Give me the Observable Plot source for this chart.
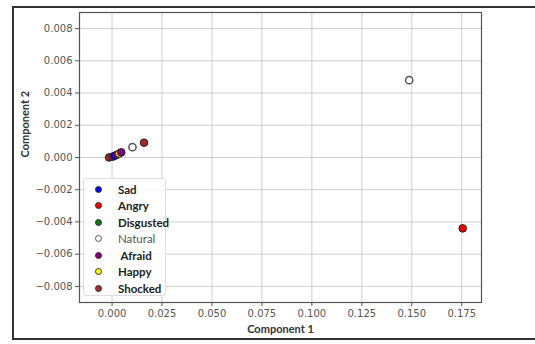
<!DOCTYPE html>
<html>
<head>
<meta charset="utf-8">
<script src="https://cdn.jsdelivr.net/npm/d3@7"></script>
<script src="https://cdn.jsdelivr.net/npm/@observablehq/plot@0.6"></script>
<style>
  html, body { margin: 0; padding: 0; background: #fff; }
  #wrap { position: relative; width: 535px; height: 344px; overflow: hidden; }
  #border { position: absolute; left: 12px; top: 6px; width: 530px; height: 334px; border: 2px solid #333; box-sizing: border-box; }
  #legend { position: absolute; left: 83px; top: 178px; width: 83px; height: 118px; border: 1px solid #ddd; border-radius: 3px; background: rgba(255,255,255,0.85); box-sizing: border-box; font-family: Lato, "Open Sans", sans-serif; font-size: 11.5px; }
  .row { position: absolute; left: 0; height: 14px; display: flex; align-items: center; }
  .sw { position: absolute; left: 11px; width: 7px; height: 7px; border-radius: 50%; box-sizing: border-box; }
  .lab { position: absolute; left: 34px; white-space: pre; font-weight: bold; color: #222; }
</style>
</head>
<body>
<div id="wrap">
  <div id="chart"></div>
  <div id="border"></div>
  <div id="legend"></div>
</div>
<script>
// Legend categories and colours
const categories = ["Sad", "Angry", "Disgusted", "Natural", "Afraid", "Happy", "Shocked"];
const colors = ["#0000ee", "#ee0000", "#117711", "#ffffff", "#800080", "#ffff00", "#a52a2a"];

// Scatter points
const ptEmotion = ["Shocked", "Shocked", "Sad", "Afraid", "Happy", "Afraid", "Natural", "Shocked", "Natural", "Angry"];
const ptC1 = [-0.0015, 0.0002, 0.0012, 0.0024, 0.0036, 0.0046, 0.0102, 0.0160, 0.1487, 0.1755];
const ptC2 = [0.0000, 0.00005, 0.0001, 0.00017, 0.00025, 0.00032, 0.00064, 0.00092, 0.0048, -0.0044];

// Tick values
const xTicks = [0.000, 0.025, 0.050, 0.075, 0.100, 0.125, 0.150, 0.175];
const yTicks = [-0.008, -0.006, -0.004, -0.002, 0.000, 0.002, 0.004, 0.006, 0.008];

const data = ptEmotion.map((e, i) => ({emotion: e, c1: ptC1[i], c2: ptC2[i]}));
const natural = data.filter(d => d.emotion === "Natural");
const filled = data.filter(d => d.emotion !== "Natural");

const plot = Plot.plot({
  width: 535,
  height: 344,
  marginLeft: 79,
  marginRight: 54,
  marginTop: 12,
  marginBottom: 42,
  style: {fontFamily: "DejaVu Sans, sans-serif", fontSize: "10px", background: "transparent"},
  x: {domain: [-0.0163, 0.1849]},
  y: {domain: [-0.009, 0.009]},
  color: {domain: categories, range: colors},
  marks: [
    Plot.gridX(xTicks, {stroke: "#bbb", strokeOpacity: 0.7}),
    Plot.gridY(yTicks, {stroke: "#bbb", strokeOpacity: 0.7}),
    Plot.axisX(xTicks, {tickFormat: d3.format(".3f"), tickSize: 4, tickPadding: 3, stroke: "#555", fill: "#555", label: null}),
    Plot.axisY(yTicks, {tickFormat: d3.format(".3f"), tickSize: 4, tickPadding: 3, stroke: "#555", fill: "#555", label: null}),
    Plot.frame({stroke: "#555", strokeWidth: 1.2}),
    Plot.dot(natural, {x: "c1", y: "c2", r: 3.6, fill: "white", stroke: "#555", strokeWidth: 1.5}),
    Plot.dot(filled, {x: "c1", y: "c2", r: 3.8, fill: "emotion", stroke: "#222", strokeWidth: 1}),
    Plot.text(["Component 1"], {frameAnchor: "bottom", dy: 30, text: d => d, fontWeight: "bold", fontSize: 11, fontFamily: "Lato, sans-serif", fill: "#333"}),
    Plot.text(["Component 2"], {frameAnchor: "left", dx: -54, rotate: -90, text: d => d, fontWeight: "bold", fontSize: 11, fontFamily: "Lato, sans-serif", fill: "#333"})
  ]
});
document.getElementById("chart").appendChild(plot);

// HTML legend overlay
const leg = document.getElementById("legend");
const labels = ["Sad", "Angry", "Disgusted", "Natural", " Afraid", "Happy", "Shocked"];
categories.forEach((c, i) => {
  const row = document.createElement("div");
  row.className = "row";
  row.style.top = (3 + i * 16.5) + "px";
  row.style.width = "100%";
  const sw = document.createElement("div");
  sw.className = "sw";
  sw.style.background = colors[i];
  sw.style.border = c === "Natural" ? "1.5px solid #555" : "1px solid #333";
  const lab = document.createElement("span");
  lab.className = "lab";
  lab.textContent = labels[i];
  if (c === "Natural") { lab.style.fontWeight = "normal"; lab.style.color = "#555"; }
  row.appendChild(sw);
  row.appendChild(lab);
  leg.appendChild(row);
});
</script>
</body>
</html>
